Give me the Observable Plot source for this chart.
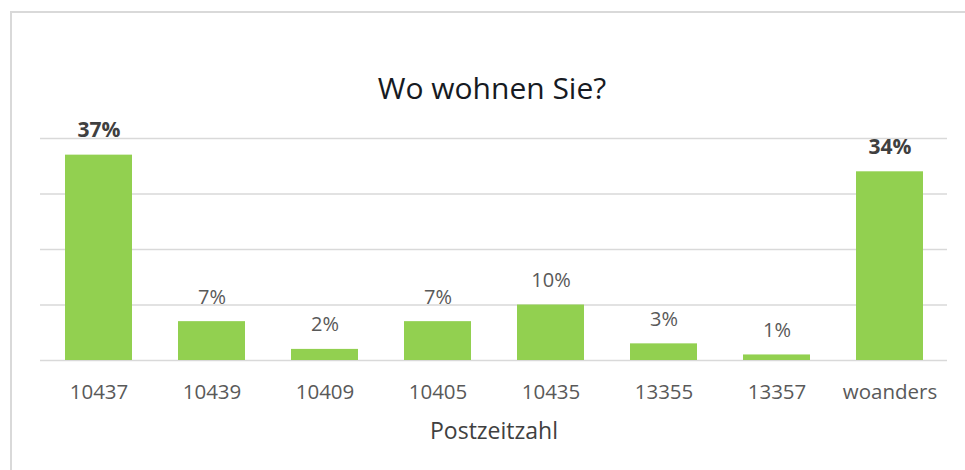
<!DOCTYPE html>
<html>
<head>
<meta charset="utf-8">
<script src="https://cdn.jsdelivr.net/npm/d3@7"></script>
<script src="https://cdn.jsdelivr.net/npm/@observablehq/plot@0.6"></script>
<style>
  html, body { margin: 0; padding: 0; background: #fff; }
  #wrap { position: relative; width: 965px; height: 470px; overflow: hidden; }
  #frame { position: absolute; left: 10px; top: 11px; width: 1000px; height: 1000px;
           border-left: 2px solid #d9d9d9; border-top: 2px solid #d9d9d9; box-sizing: border-box; }
  #chart { position: absolute; left: 0; top: 0; }
</style>
</head>
<body>
<div id="wrap"><div id="frame"></div><div id="chart"></div></div>
<script>
const categories = ["10437", "10439", "10409", "10405", "10435", "13355", "13357", "woanders"];
const values = [37, 7, 2, 7, 10, 3, 1, 34];
const gridTicks = [0, 10, 20, 30, 40];
const title = "Wo wohnen Sie?";
const xLabel = "Postzeitzahl";

const data = categories.map((c, i) => ({cat: c, v: values[i], label: values[i] + "%", big: values[i] > 20}));

const plot = Plot.plot({
  width: 965,
  height: 470,
  marginLeft: 40,
  marginRight: 18,
  marginTop: 138,
  marginBottom: 110,
  style: {fontFamily: "'Open Sans', sans-serif", background: "transparent"},
  x: {domain: categories, paddingInner: 0.41, paddingOuter: 0.205, label: null},
  y: {domain: [0, 40], axis: null},
  marks: [
    Plot.ruleY(gridTicks, {stroke: "#d9d9d9", strokeWidth: 1.5}),
    Plot.barY(data, {x: "cat", y: "v", fill: "#92d050"}),
    Plot.text(data.filter(d => !d.big), {x: "cat", y: "v", text: "label", dy: -18, lineAnchor: "bottom",
      fontSize: 20, fill: "#595959"}),
    Plot.text(data.filter(d => d.big), {x: "cat", y: "v", text: "label", dy: -18, lineAnchor: "bottom",
      fontSize: 21, fontWeight: "bold", fill: "#404040"}),
    Plot.axisX({tickSize: 0, tickPadding: 24, fontSize: 20.5, color: "#595959", label: null}),
    Plot.text([xLabel], {frameAnchor: "bottom", dy: 78, lineAnchor: "bottom", fontSize: 23, fill: "#404040"}),
    Plot.text([title], {frameAnchor: "top", dy: -40, dx: -2, lineAnchor: "bottom", fontSize: 30, fill: "#161a22"})
  ]
});
document.getElementById("chart").appendChild(plot);
</script>
</body>
</html>
